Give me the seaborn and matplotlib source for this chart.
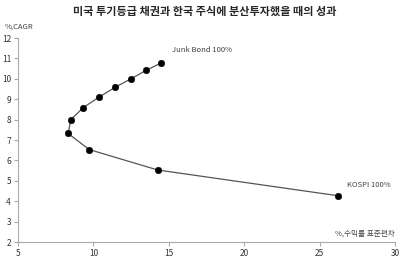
import seaborn as sns
import matplotlib.pyplot as plt
import pandas as pd

sns.set_style('white')
plt.rcParams['font.family'] = ['Noto Sans CJK KR', 'DejaVu Sans']

# risk (std of returns) vs CAGR, from Junk Bond 100% to KOSPI 100%
std_dev = [14.46, 13.49, 12.49, 11.43, 10.37, 9.33, 8.51, 8.32, 9.73, 14.26, 26.2]
cagr = [10.77, 10.41, 10.0, 9.58, 9.10, 8.59, 8.00, 7.32, 6.53, 5.53, 4.27]
df = pd.DataFrame({'std': std_dev, 'cagr': cagr})

fig = plt.figure(figsize=(4.1, 2.63), dpi=100)
ax = fig.add_axes([18/410, 21/263, 377/410, 204/263])

sns.lineplot(data=df, x='std', y='cagr', sort=False, color='#555555',
             linewidth=0.9, ax=ax)
sns.scatterplot(data=df, x='std', y='cagr', color='black', s=22,
                edgecolor='black', zorder=3, ax=ax)

ax.set_xlim(5, 30)
ax.set_ylim(2, 12)
ax.set_xticks(range(5, 31, 5))
ax.set_yticks(range(2, 13))
ax.set_xlabel('')
ax.set_ylabel('')
for s in ['top', 'right']:
    ax.spines[s].set_visible(False)
for s in ['left', 'bottom']:
    ax.spines[s].set_color('#aaaaaa')
    ax.spines[s].set_linewidth(0.8)
ax.tick_params(axis='both', labelsize=6, colors='#aaaaaa', labelcolor='#333333',
               length=3, width=0.8, direction='out', pad=2)
ax.tick_params(axis='y', left=True)
ax.tick_params(axis='x', bottom=True)

ax.text(std_dev[0] + 0.75, cagr[0] + 0.65, 'Junk Bond 100%', fontsize=5.5,
        color='#444444', va='center', ha='left')
ax.text(std_dev[-1] + 0.6, cagr[-1] + 0.5, 'KOSPI 100%', fontsize=5.5,
        color='#444444', va='center', ha='left')
ax.text(30, 2.4, '%,수익률 표준편차', fontsize=5.5, color='#444444',
        ha='right', va='center')
fig.text(5/410, 1 - 27/263, '%,CAGR', fontsize=5.5, color='#444444',
         va='center', ha='left')
fig.text(0.5, 1 - 11/263, '미국 투기등급 채권과 한국 주식에 분산투자했을 때의 성과',
         fontsize=8, fontweight='bold', ha='center', va='center')

plt.savefig('out.png', dpi=100)
